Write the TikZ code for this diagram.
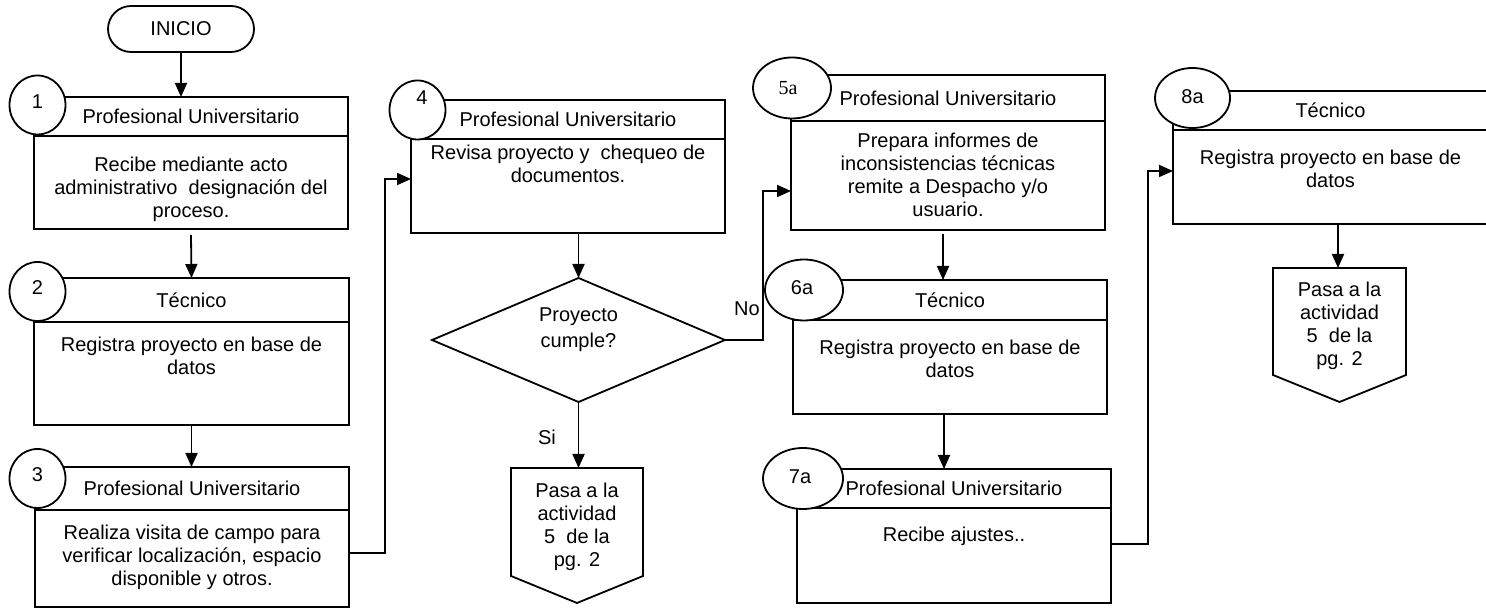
\documentclass[tikz,border=0pt]{standalone}
\usepackage{fontspec}
\setmainfont{Liberation Sans}
\newfontfamily\serifnum{Liberation Serif}
\usetikzlibrary{arrows.meta,shapes.geometric,positioning}
\begin{document}
\begin{tikzpicture}[x=0.5pt,y=-0.5pt,
  every node/.style={font=\fontsize{10}{11.5}\selectfont, inner sep=0pt, outer sep=0pt},
  ln/.style={line width=0.9pt},
  arr/.style={ln, -{Triangle[length=7pt,width=6pt]}},
  head/.style={draw, ln, anchor=north west},
  body/.style={draw, ln, anchor=north west},
  btext/.style={align=center},
  numc/.style={draw, ln, fill=white, ellipse, minimum width=28pt, minimum height=29.5pt},
  nume/.style={draw, ln, fill=white, ellipse, minimum height=30.5pt},
  pent/.style={anchor=north}
]
\useasboundingbox (0,0) rectangle (1486,613);

% start terminal
\node[draw, ln, rounded corners=11.5pt, minimum width=73pt, minimum height=23pt] (inicio) at (181,29) {INICIO};

% activity 1
\node[head, minimum width=157pt, minimum height=19.5pt] (h1) at (34,97) {Profesional Universitario};
\node[body, minimum width=157pt, minimum height=46.5pt] (b1) at (h1.south west) {};
\node[btext, below=10.5pt of b1.north] (t1) {Recibe mediante acto\\administrativo\ \ designación del\\proceso.};

% activity 2
\node[head, minimum width=157.5pt, minimum height=22pt] (h2) at (34,278) {Técnico};
\node[body, minimum width=157.5pt, minimum height=51.5pt] (b2) at (h2.south west) {};
\node[btext, below=7.5pt of b2.north] (t2) {Registra proyecto en base de\\datos};

% activity 3
\node[head, minimum width=157pt, minimum height=21.5pt] (h3) at (35,467) {Profesional Universitario};
\node[body, minimum width=157pt, minimum height=48.5pt] (b3) at (h3.south west) {};
\node[btext, below=7.5pt of b3.north] (t3) {Realiza visita de campo para\\verificar localización, espacio\\disponible y otros.};

% activity 4
\node[head, minimum width=157pt, minimum height=19.5pt] (h4) at (411,100) {Profesional Universitario};
\node[body, minimum width=157pt, minimum height=47pt] (b4) at (h4.south west) {};
\node[btext, below=3pt of b4.north] (t4) {Revisa proyecto y\ \ chequeo de\\documentos.};

% decision
\node[draw, ln, diamond, minimum width=146.5pt, minimum height=62pt,
      label={[align=center, font=\fontsize{10}{13}\selectfont, yshift=5pt]center:{Proyecto\\cumple?}}] (d) at (578.5,340) {};

% off-page connector after "Si"
\node[pent, minimum width=66pt, minimum height=54pt,
      label={[align=center, yshift=-2.5pt]center:{Pasa a la\\actividad\\5\ \ de la\\pg. 2}}] (p1) at (577,468) {};
\draw[ln] (p1.north west) -- (p1.north east) -- (p1.south east) -- ([yshift=-13.5pt]p1.south) -- (p1.south west) -- cycle;

% activity 5a
\node[head, minimum width=157pt, minimum height=23pt] (h5) at (791,75) {Profesional Universitario};
\node[body, minimum width=157pt, minimum height=54.5pt] (b5) at (h5.south west) {};
\node[btext, below=6pt of b5.north] (t5) {Prepara informes de\\inconsistencias técnicas\\remite a Despacho y/o\\usuario.};

% activity 6a
\node[head, minimum width=157pt, minimum height=20pt] (h6) at (793,280) {Técnico};
\node[body, minimum width=157pt, minimum height=47pt] (b6) at (h6.south west) {};
\node[btext, below=10pt of b6.north] (t6) {Registra proyecto en base de\\datos};

% activity 7a
\node[head, minimum width=157pt, minimum height=19.5pt] (h7) at (797,469) {\raisebox{-1.5pt}{Profesional Universitario}};
\node[body, minimum width=157pt, minimum height=47.5pt] (b7) at (h7.south west) {};
\node[btext, below=9.5pt of b7.north] (t7) {Recibe ajustes..};

% activity 8a
\node[head, minimum width=157.5pt, minimum height=19.5pt] (h8) at (1173,91) {\raisebox{-1.2pt}{Técnico}};
\node[body, minimum width=157.5pt, minimum height=47pt] (b8) at (h8.south west) {};
\node[btext, below=10pt of b8.north] (t8) {Registra proyecto en base de\\datos};

% off-page connector after 8a
\node[pent, minimum width=66.5pt, minimum height=53.5pt,
      label={[align=center, yshift=-2pt]center:{Pasa a la\\actividad\\5\ \ de la\\pg. 2}}] (p2) at (1339.5,268) {};
\draw[ln] (p2.north west) -- (p2.north east) -- (p2.south east) -- ([yshift=-13.5pt]p2.south) -- (p2.south west) -- cycle;

% step numbers
\node[numc, label={[yshift=1.5pt]center:1}] (c1) at (37.5,105) {};
\node[numc, label={[yshift=1.75pt]center:2}] (c2) at (37.5,291.5) {};
\node[numc, label={[yshift=1.75pt]center:3}] (c3) at (37.5,478.5) {};
\node[numc, label={[xshift=2.25pt, yshift=6pt]center:4}] (c4) at (417.5,110) {};
\node[nume, minimum width=39pt, label={[xshift=-2pt, font=\serifnum\fontsize{10}{12}\selectfont]center:5a}] (c5) at (792,88) {};
\node[nume, minimum width=39pt, label={[xshift=-1pt, yshift=1pt]center:6a}] (c6) at (804,290) {};
\node[nume, minimum width=40pt, label={[xshift=-1.5pt, yshift=0.75pt]center:7a}] (c7) at (803,478.5) {};
\node[nume, minimum width=37.5pt, minimum height=30pt, label={[yshift=0.5pt]center:8a}] (c8) at (1192.5,98) {};

% branch labels
\node (no) at (747,309) {No};
\node (si) at (547,437) {Si};

% connectors
\draw[arr] (inicio.south) -- (inicio.south |- h1.north);
\draw[arr] ([yshift=-3pt]b1.south) -- (h2.north);
\draw[arr] (b2.south) -- (b2.south |- h3.north);
\draw[arr] ([yshift=2.75pt]b3.east) -- ++(18pt,0) |- ([yshift=3.5pt]b4.west);
\draw[arr] (b4.south -| d.north) -- (d.north);
\draw[arr] (d.south) -- (d.south |- p1.north);
\draw[arr] (d.east) -- ++(19pt,0) |- ([yshift=-7.75pt]b5.west);
\draw[arr] ([xshift=-2.5pt,yshift=-2pt]b5.south) -- ([xshift=-3.5pt]h6.north);
\draw[arr] ([xshift=-3pt]b6.south) -- ([xshift=-5pt]h7.north);
\draw[arr] ([yshift=5.75pt]b7.east) -- ++(18.5pt,0) |- ([yshift=3pt]b8.west);
\draw[arr] ([xshift=3.75pt]b8.south) -- ([xshift=-0.75pt]p2.north);
\end{tikzpicture}
\end{document}
